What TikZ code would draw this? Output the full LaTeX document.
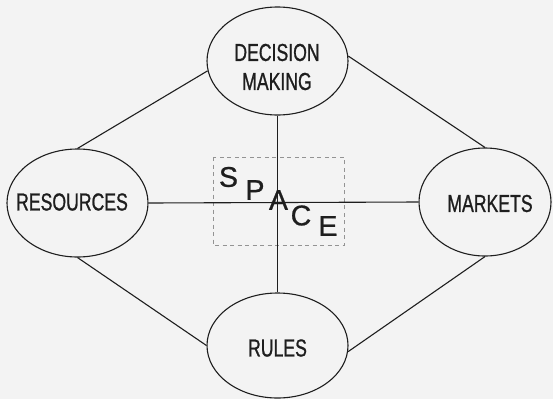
\documentclass[tikz,border=0pt]{standalone}
\usepackage{fontspec}
\setmainfont{Liberation Sans}[FakeBold=0.6]
\newfontfamily\narrowsans{Liberation Sans}[FakeStretch=0.72,FakeBold=0.9]
\newfontfamily\spacefont{Liberation Sans}[FakeBold=0.8]
\usetikzlibrary{shapes.geometric}
\definecolor{bgc}{HTML}{F3F3F3}
\definecolor{ink}{HTML}{1E1E1E}
\tikzset{
  blob/.style={ellipse, draw=ink, line width=1.1pt, inner sep=0pt,
    minimum width=141pt, minimum height=108pt},
  lbl/.style={font=\narrowsans\fontsize{24.5}{29}\selectfont, text=ink, inner sep=0pt, align=center},
  conn/.style={draw=ink, line width=1.1pt},
  letter/.style={font=\spacefont\fontsize{28.5}{28.5}\selectfont, text=ink, inner sep=0pt, anchor=center},
  dbox/.style={draw=gray!85, line width=0.8pt, dash pattern=on 4pt off 3.5pt}
}
\begin{document}
\begin{tikzpicture}[x=1pt,y=-1pt]
\fill[bgc] (0,0) rectangle (553,399);
\useasboundingbox (0,0) rectangle (553,399);
% ellipses
\node[blob] (dm) at (277.5,61) {};
\node[blob] (res) at (77.5,203) {};
\node[blob, minimum width=132pt] (mk) at (485,202) {};
\node[blob, minimum height=105pt] (ru) at (277.5,345.5) {};
% labels
\node[lbl] (dmt) at (277,67) {DECISION\\MAKING};
\node[lbl] (rest) at (72,202) {RESOURCES};
\node[lbl] (mkt) at (490,203.5) {MARKETS};
\node[lbl] (rut) at (277.5,348) {RULES};
% dashed box
\draw[dbox] (213,157) rectangle (344,245);
% connectors
\draw[conn] (res.north) -- (dm.188);
\draw[conn] (dm.4) -- (mk.north);
\draw[conn] (res.south) -- (ru.west);
\draw[conn] (ru.355) -- (mk.south);
\draw[conn] (dm.south) -- (ru.north);
\draw[conn] (res.east) -- (mk.west);
% SPACE letters
\node[letter] (ls) at (228.5,177) {S};
\node[letter] (lp) at (255,190) {P};
\node[letter] (la) at (278.5,200) {A};
\node[letter] (lc) at (301,215.5) {C};
\node[letter] (le) at (328,226) {E};
\end{tikzpicture}
\end{document}
